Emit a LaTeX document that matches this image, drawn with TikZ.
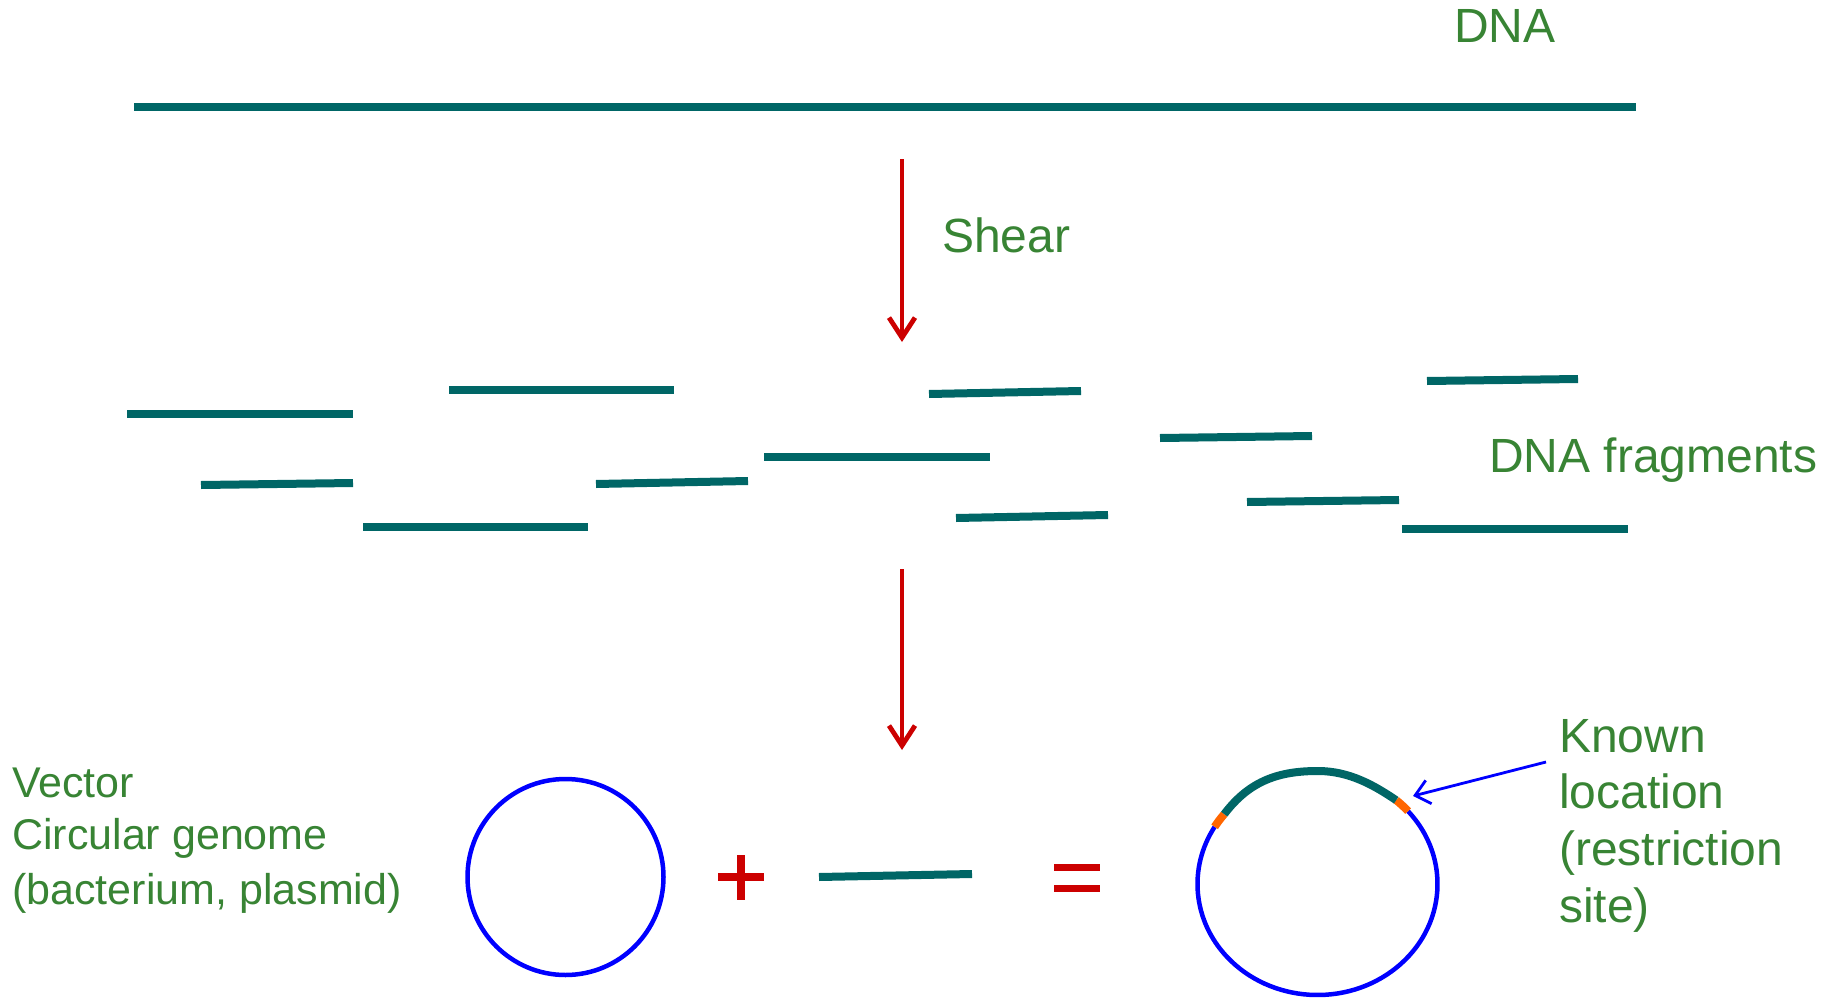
\documentclass[tikz,border=0pt]{standalone}
\usepackage{fontspec}
\setmainfont{Liberation Sans}
\usetikzlibrary{arrows.meta}
\definecolor{dnateal}{RGB}{0,102,102}
\definecolor{arrowred}{RGB}{204,0,0}
\definecolor{labelgreen}{RGB}{56,132,52}
\definecolor{vecblue}{RGB}{0,0,255}
\definecolor{siteorange}{RGB}{255,102,0}
\begin{document}
\begin{tikzpicture}[x=1pt,y=-1pt,
  frag/.style={draw=dnateal, line width=8pt},
  redarrow/.style={draw=arrowred, line width=4.8pt,
    -{Straight Barb[length=20pt,width=26pt,line width=4.8pt]}},
  signbar/.style={draw=arrowred, line width=7.5pt},
  lbl/.style={text=labelgreen, inner sep=0pt, anchor=base west,
    font=\fontsize{48}{57}\selectfont},
  smalllbl/.style={text=labelgreen, inner sep=0pt, anchor=base west,
    font=\fontsize{43}{51}\selectfont},
  ring/.style={draw=vecblue, line width=4.5pt},
  sitemark/.style={draw=siteorange, line width=8pt},
  pointer/.style={draw=vecblue, line width=2.8pt,
    -{Straight Barb[length=14pt,width=24pt,line width=2.8pt]}}]
\useasboundingbox (0,0) rectangle (1832,998);

% whole DNA
\draw[frag] (134,106.5) -- (1636,106.5);
\node[lbl] (dna) at (1454,43) {DNA};

% shear arrow
\coordinate (a1s) at (902,159);
\coordinate (a1e) at (902,342);
\draw[redarrow] (a1s) -- (a1e);
\node[lbl] (shear) at (942,252) {Shear};

% fragments
\draw[frag] (127,414) -- (353,414);
\draw[frag] (449,390) -- (674,390);
\draw[frag] (929,394) -- (1081,391);
\draw[frag] (1427,381) -- (1578,379);
\draw[frag] (201,485) -- (353,483);
\draw[frag] (596,484) -- (748,481);
\draw[frag] (764,457) -- (990,457);
\draw[frag] (1160,438) -- (1312,436);
\draw[frag] (956,518) -- (1108,515);
\draw[frag] (1247,502) -- (1399,500);
\draw[frag] (363,527) -- (588,527);
\draw[frag] (1402,529) -- (1628,529);
\node[lbl] (frags) at (1489,472) {DNA fragments};

% second arrow
\coordinate (a2s) at (902,569);
\coordinate (a2e) at (902,750);
\draw[redarrow] (a2s) -- (a2e);

% vector text
\node[smalllbl] (vec1) at (12,797) {Vector};
\node[smalllbl] (vec2) at (12,849) {Circular genome};
\node[smalllbl] (vec3) at (12,904) {(bacterium, plasmid)};

% vector circle
\node[ring, circle, minimum size=196pt, inner sep=0pt] (vcirc) at (565.5,877) {};

% plus
\draw[signbar] (718,877) -- (764,877);
\draw[signbar] (741,855) -- (741,900);

% insert fragment
\draw[frag] (819,877) -- (972,874);

% equals
\draw[signbar] (1054,867.5) -- (1100,867.5);
\draw[signbar] (1054,888.5) -- (1100,888.5);

% recombinant circle
\coordinate (rc) at (1317.5,884);
\draw[ring] (rc) ++(-41:120 and 111) arc[start angle=-41, end angle=211, x radius=120, y radius=111];
\draw[sitemark] (rc) ++(-49:120 and 111) arc[start angle=-49, end angle=-41, x radius=120, y radius=111];
\draw[sitemark] (rc) ++(211:120 and 111) arc[start angle=211, end angle=219, x radius=120, y radius=111];
\draw[frag] (rc) ++(219:120 and 111) .. controls (1250,780) and (1280,771) .. (1318,771)
  .. controls (1350,771) and (1375,786) .. (1396.2,800.2);

% known location
\coordinate (ptrS) at (1546,762);
\coordinate (ptrE) at (1413,796);
\draw[pointer] (ptrS) -- (ptrE);
\node[lbl] (k1) at (1559,752) {Known};
\node[lbl] (k2) at (1559,808) {location};
\node[lbl] (k3) at (1559,865) {(restriction};
\node[lbl] (k4) at (1559,922) {site)};
\end{tikzpicture}
\end{document}
